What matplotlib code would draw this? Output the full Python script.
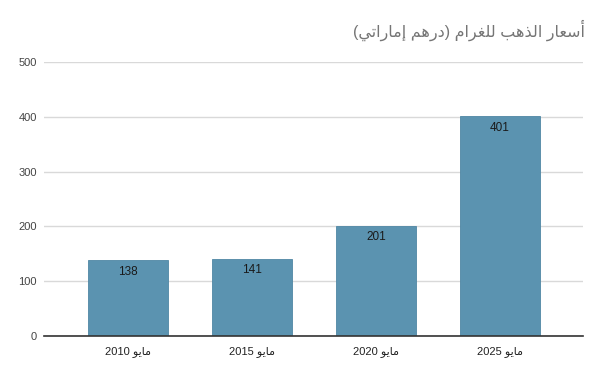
import matplotlib
matplotlib.use("Agg")
import matplotlib.pyplot as plt

# data
years = ["2010", "2015", "2020", "2025"]
prices = [138, 141, 201, 401]
month = "مايو"
title = "أسعار الذهب للغرام (درهم إماراتي)"

# tiny arabic shaper (matplotlib 3.10 has no shaping / bidi)
forms = {
    "\u0623": ("\uFE83", "\uFE84", None, None),
    "\u0625": ("\uFE87", "\uFE88", None, None),
    "\u0627": ("\uFE8D", "\uFE8E", None, None),
    "\u062F": ("\uFEA9", "\uFEAA", None, None),
    "\u0630": ("\uFEAB", "\uFEAC", None, None),
    "\u0631": ("\uFEAD", "\uFEAE", None, None),
    "\u0648": ("\uFEED", "\uFEEE", None, None),
    "\u0628": ("\uFE8F", "\uFE90", "\uFE91", "\uFE92"),
    "\u062A": ("\uFE95", "\uFE96", "\uFE97", "\uFE98"),
    "\u0633": ("\uFEB1", "\uFEB2", "\uFEB3", "\uFEB4"),
    "\u0639": ("\uFEC9", "\uFECA", "\uFECB", "\uFECC"),
    "\u063A": ("\uFECD", "\uFECE", "\uFECF", "\uFED0"),
    "\u0644": ("\uFEDD", "\uFEDE", "\uFEDF", "\uFEE0"),
    "\u0645": ("\uFEE1", "\uFEE2", "\uFEE3", "\uFEE4"),
    "\u0647": ("\uFEE9", "\uFEEA", "\uFEEB", "\uFEEC"),
    "\u064A": ("\uFEF1", "\uFEF2", "\uFEF3", "\uFEF4"),
}


def shape(s):
    out = []
    for i, ch in enumerate(s):
        if ch not in forms:
            out.append(ch)
            continue
        prev = s[i - 1] if i > 0 else ""
        nxt = s[i + 1] if i + 1 < len(s) else ""
        to_prev = prev in forms and forms[prev][2] is not None
        to_next = forms[ch][2] is not None and nxt in forms
        iso, fin, ini, med = forms[ch]
        if to_prev and to_next:
            out.append(med)
        elif to_prev:
            out.append(fin)
        elif to_next:
            out.append(ini)
        else:
            out.append(iso)
    return "".join(out)


def visual(s):
    r = shape(s)[::-1]
    r = r.translate(str.maketrans("()", ")("))
    # put digit runs back in LTR order
    res, run = "", ""
    for ch in r:
        if ch.isdigit():
            run += ch
        else:
            res += run[::-1] + ch
            run = ""
    return res + run[::-1]


labels = [visual(month + " " + y) for y in years]

plt.rcParams["font.family"] = ["Liberation Sans", "DejaVu Sans"]

fig = plt.figure(figsize=(6.02, 3.75), dpi=100)
ax = fig.add_axes([0.073, 0.104, 0.895, 0.731])

x = range(len(years))
bars = ax.bar(x, prices, width=0.645, color="#5b93b0", edgecolor="#4f87a4", linewidth=0.6, zorder=3)
for b, v in zip(bars, prices):
    ax.text(b.get_x() + b.get_width() / 2, v - 10, str(v), ha="center", va="top",
            fontsize=8.5, color="#1a1a1a", zorder=4)

ax.set_xlim(-0.677, 3.669)
ax.set_ylim(0, 500)
ax.set_yticks([0, 100, 200, 300, 400, 500])
ax.set_xticks(list(x))
ax.set_xticklabels(labels)
ax.grid(axis="y", color="#d9d9d9", linewidth=1, zorder=0)
for sp in ["top", "right", "left"]:
    ax.spines[sp].set_visible(False)
ax.spines["bottom"].set_color("#333333")
ax.spines["bottom"].set_linewidth(1.2)
ax.spines["bottom"].set_zorder(5)
ax.tick_params(axis="both", length=0, labelsize=8, colors="#222222")
ax.tick_params(axis="y", pad=5, colors="#444444")
ax.tick_params(axis="x", pad=7)

fig.text(0.972, 0.918, visual(title), ha="right", va="center", fontsize=11.5, color="#757575")

fig.savefig("out.png", dpi=100)
